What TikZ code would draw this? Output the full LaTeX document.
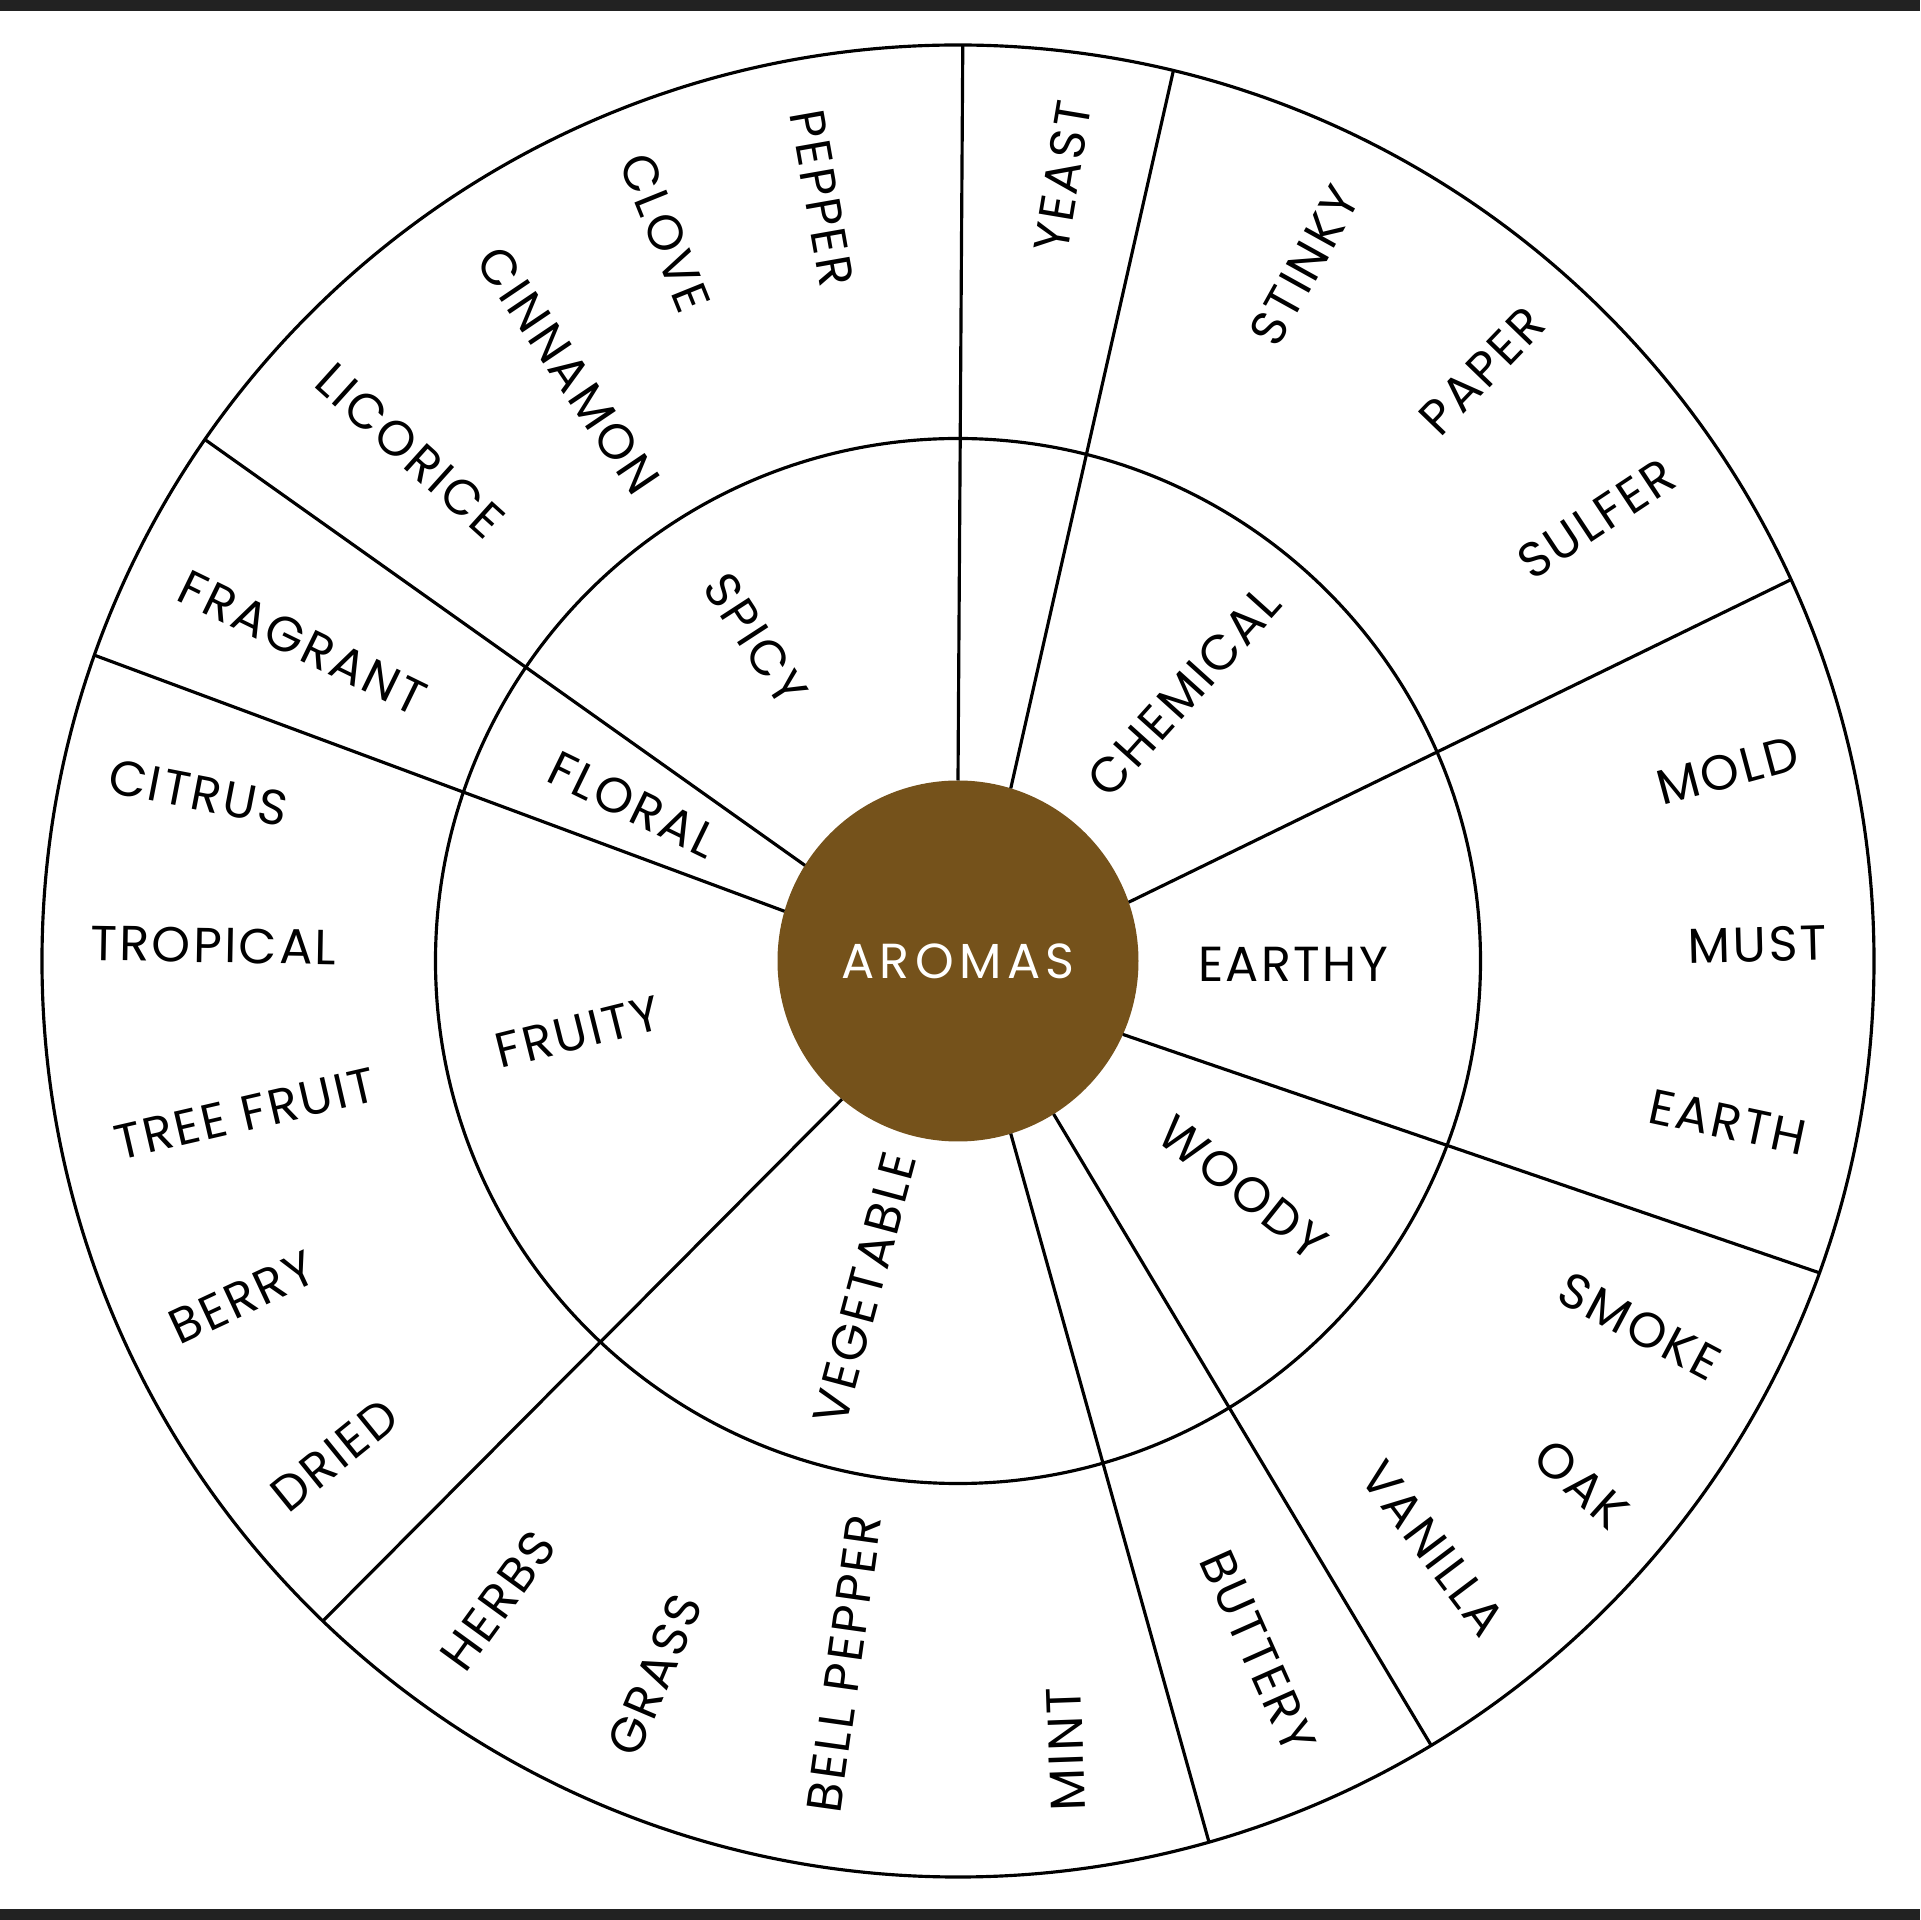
\documentclass[tikz,border=0pt]{standalone}
\usepackage{fontspec}
\setmainfont{Poppins}[LetterSpace=5]
\usepackage{tikz}
\usetikzlibrary{calc}
\definecolor{aroma}{RGB}{117,82,27}
\definecolor{band}{RGB}{34,34,34}

\begin{document}
\begin{tikzpicture}[line width=0.9pt, lbl/.style={font=\fontsize{14}{16}\selectfont}]
    \useasboundingbox (-9.58,-9.59) rectangle (9.62,9.61);
    \fill[band] (-9.58,9.495) rectangle (9.62,9.61);
    \fill[band] (-9.58,-9.59) rectangle (9.62,-9.475);
    \coordinate (O) at (0,0);
    \draw (O) circle (9.16);
    \draw (O) circle (5.225);
    \node (A) [circle, fill=aroma, minimum size=3.61cm, inner sep=0pt, outer sep=0pt, lbl, text=white] {\addfontfeature{LetterSpace=11}AROMAS\hspace{0.4cm}};
    \foreach \a/\b [count=\i] in {90.2/89.7, 73.7/76.4, 19.5/24.6, -24.3/-19.9, -58.6/-58.9, -73.9/-74.1, -130.1/-133.9, 164.9/160.5, 148.7/145.3}{
        \coordinate (s\i) at (\b:9.16);
        \draw (A.\a) -- (s\i);
    }
    \foreach \t/\a/\r/\o [count=\i] in {SPICY/122.2/3.802/-57, CHEMICAL/50/3.515/48, EARTHY/-0.5/3.351/0, WOODY/-38.5/3.642/-38.5, VEGETABLE/-105.9/3.403/75, FRUITY/-169.4/3.866/14, FLORAL/154.3/3.606/-26}
        \node (c\i) [lbl, rotate=\o] at (\a:\r) {\t};
    \foreach \t/\a/\r/\o [count=\i] in {PEPPER/100.1/7.75/-80, CLOVE/111.9/7.85/-68, CINNAMON/123.4/7.075/-56, LICORICE/137.05/7.485/-42, FRAGRANT/154.1/7.286/-26, CITRUS/167.5/7.783/-11, TROPICAL/178.8/7.447/-1, TREE FRUIT/-167.9/7.292/13, BERRY/-154.8/7.909/25, DRIED/-141.6/7.956/39, HERBS/-125.7/7.877/54, GRASS/-113/7.757/67, BELL PEPPER/-99.2/7.119/82, MINT/-82.2/7.958/92, BUTTERY/-66.5/7.53/-66, VANILLA/-51/7.553/-53, OAK/-40/8.142/-42, SMOKE/-28.2/7.737/-28, EARTH/-11.8/7.865/-12, MUST/1.2/7.998/1.5, MOLD/13.9/7.93/15, SULFER/34.7/7.768/33.5, PAPER/48.4/7.897/46, STINKY/63.5/7.767/61, YEAST/82.4/7.917/80.5}
        \node (w\i) [lbl, rotate=\o] at (\a:\r) {\t}; % outer ring
\end{tikzpicture}
\end{document}
